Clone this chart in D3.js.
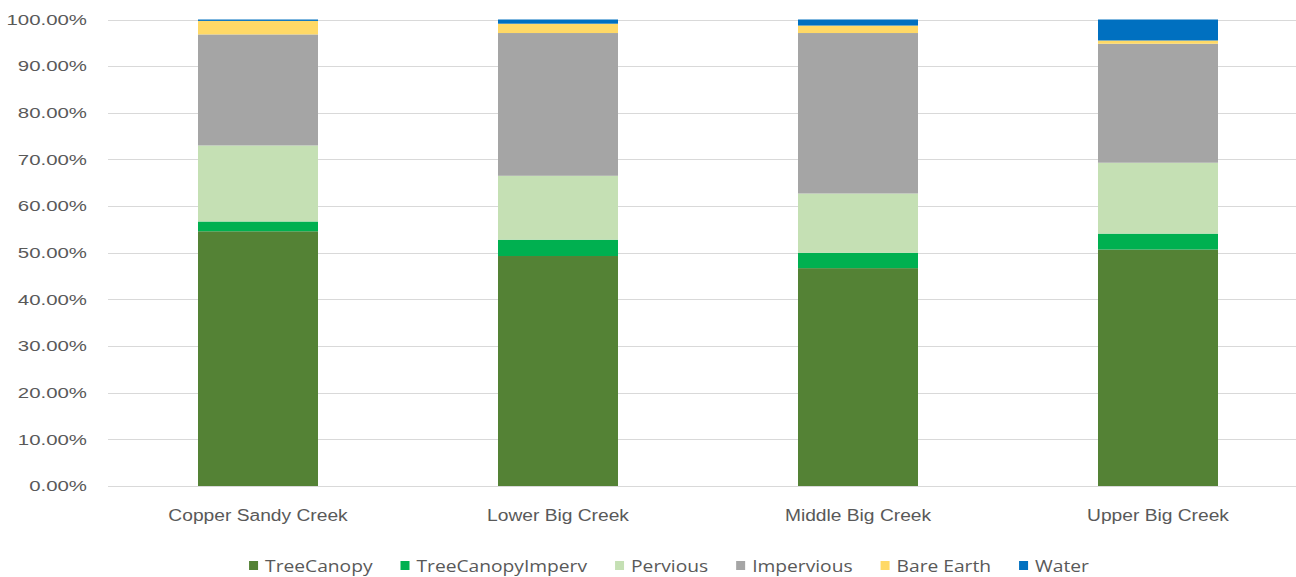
<!DOCTYPE html>
<html>
<head>
  <meta charset="utf-8">
  <style>
    body { margin: 0; background: #fff; }
    svg { display: block; font-family: "Open Sans", sans-serif; }
    .tick text { fill: #595959; }
  </style>
</head>
<body>
  <div id="chart"></div>
  <script src="https://d3js.org/d3.v7.min.js"></script>
  <script>
    // data (percent of each watershed)
    var watersheds = ["Copper Sandy Creek", "Lower Big Creek", "Middle Big Creek", "Upper Big Creek"];
    var landCover = ["TreeCanopy", "TreeCanopyImperv", "Pervious", "Impervious", "Bare Earth", "Water"];
    var treeCanopy = [54.6, 49.3, 46.7, 50.7];
    var treeCanopyImperv = [2.1, 3.5, 3.3, 3.4];
    var pervious = [16.3, 13.7, 12.7, 15.2];
    var impervious = [23.8, 30.6, 34.4, 25.5];
    var bareEarth = [2.9, 2.0, 1.6, 0.7];
    var water = [0.3, 0.9, 1.3, 4.5];
    var yTicks = [0, 10, 20, 30, 40, 50, 60, 70, 80, 90, 100];
    var colors = ["#548235", "#00b050", "#c5e0b4", "#a5a5a5", "#ffd966", "#0070c0"];

    var W = 1296, H = 577;
    var margin = {top: 19.5, left: 108};
    var plotRight = 1308, plotBottom = 486;

    // the original font is wider than what we have, stretch text a bit
    var stretch = function (sel, f) {
      sel.each(function () {
        var len = this.getComputedTextLength();
        d3.select(this)
            .attr("textLength", len * f)
            .attr("lengthAdjust", "spacingAndGlyphs");
      });
    };

    var svg = d3.select("#chart").append("svg")
        .attr("width", W)
        .attr("height", H);

    var series = [treeCanopy, treeCanopyImperv, pervious, impervious, bareEarth, water];
    var rows = watersheds.map(function (w, i) {
      var r = {name: w};
      landCover.forEach(function (k, j) { r[k] = series[j][i]; });
      return r;
    });
    var stacked = d3.stack().keys(landCover)(rows);

    var x = d3.scaleBand()
        .domain(watersheds)
        .range([margin.left, plotRight])
        .paddingInner(0.6)
        .paddingOuter(0.3);

    var y = d3.scaleLinear()
        .domain([0, 100])
        .range([plotBottom, margin.top]);

    // gridlines
    svg.append("g")
        .selectAll("line")
        .data(yTicks)
        .enter().append("line")
        .attr("x1", margin.left)
        .attr("x2", plotRight)
        .attr("y1", d => Math.round(y(d)) + 0.5)
        .attr("y2", d => Math.round(y(d)) + 0.5)
        .attr("stroke", "#d9d9d9")
        .attr("stroke-width", 1);

    // y axis labels
    var yAxis = d3.axisLeft(y)
        .tickValues(yTicks)
        .tickSize(0)
        .tickPadding(21)
        .tickFormat(d => d.toFixed(2) + "%");
    var gy = svg.append("g")
        .attr("transform", "translate(" + margin.left + ",0)")
        .call(yAxis);
    gy.select(".domain").remove();
    gy.selectAll("text").style("font-size", "15px").call(stretch, 1.36);

    // bars
    svg.append("g")
        .selectAll("g")
        .data(stacked)
        .enter().append("g")
        .attr("fill", (d, i) => colors[i])
        .selectAll("rect")
        .data(d => d)
        .enter().append("rect")
        .attr("x", d => x(d.data.name))
        .attr("width", x.bandwidth())
        .attr("y", d => y(d[1]))
        .attr("height", d => y(d[0]) - y(d[1]));

    // x axis baseline + labels
    var xAxis = d3.axisBottom(x).tickSize(0).tickPadding(24);
    var gx = svg.append("g")
        .attr("transform", "translate(0," + plotBottom + ")")
        .call(xAxis);
    gx.select(".domain").attr("stroke", "#d9d9d9");
    gx.selectAll("text").style("font-size", "16px").call(stretch, 1.2);

    // legend
    var legend = svg.append("g");
    var lx = 0;
    landCover.forEach(function (k, i) {
      var item = legend.append("g").attr("transform", "translate(" + lx + ",0)");
      item.append("rect")
          .attr("x", 0).attr("y", -11)
          .attr("width", 9).attr("height", 9)
          .attr("fill", colors[i]);
      var t = item.append("text")
          .attr("x", 16).attr("y", 0)
          .attr("fill", "#595959")
          .style("font-size", "16px")
          .text(k);
      var len = t.node().getComputedTextLength() * 1.2;
      t.attr("textLength", len).attr("lengthAdjust", "spacingAndGlyphs");
      lx += 16 + len + 28;
    });
    var legendWidth = lx - 28;
    legend.attr("transform", "translate(" + (669 - legendWidth / 2) + ",572)");
  </script>
</body>
</html>
